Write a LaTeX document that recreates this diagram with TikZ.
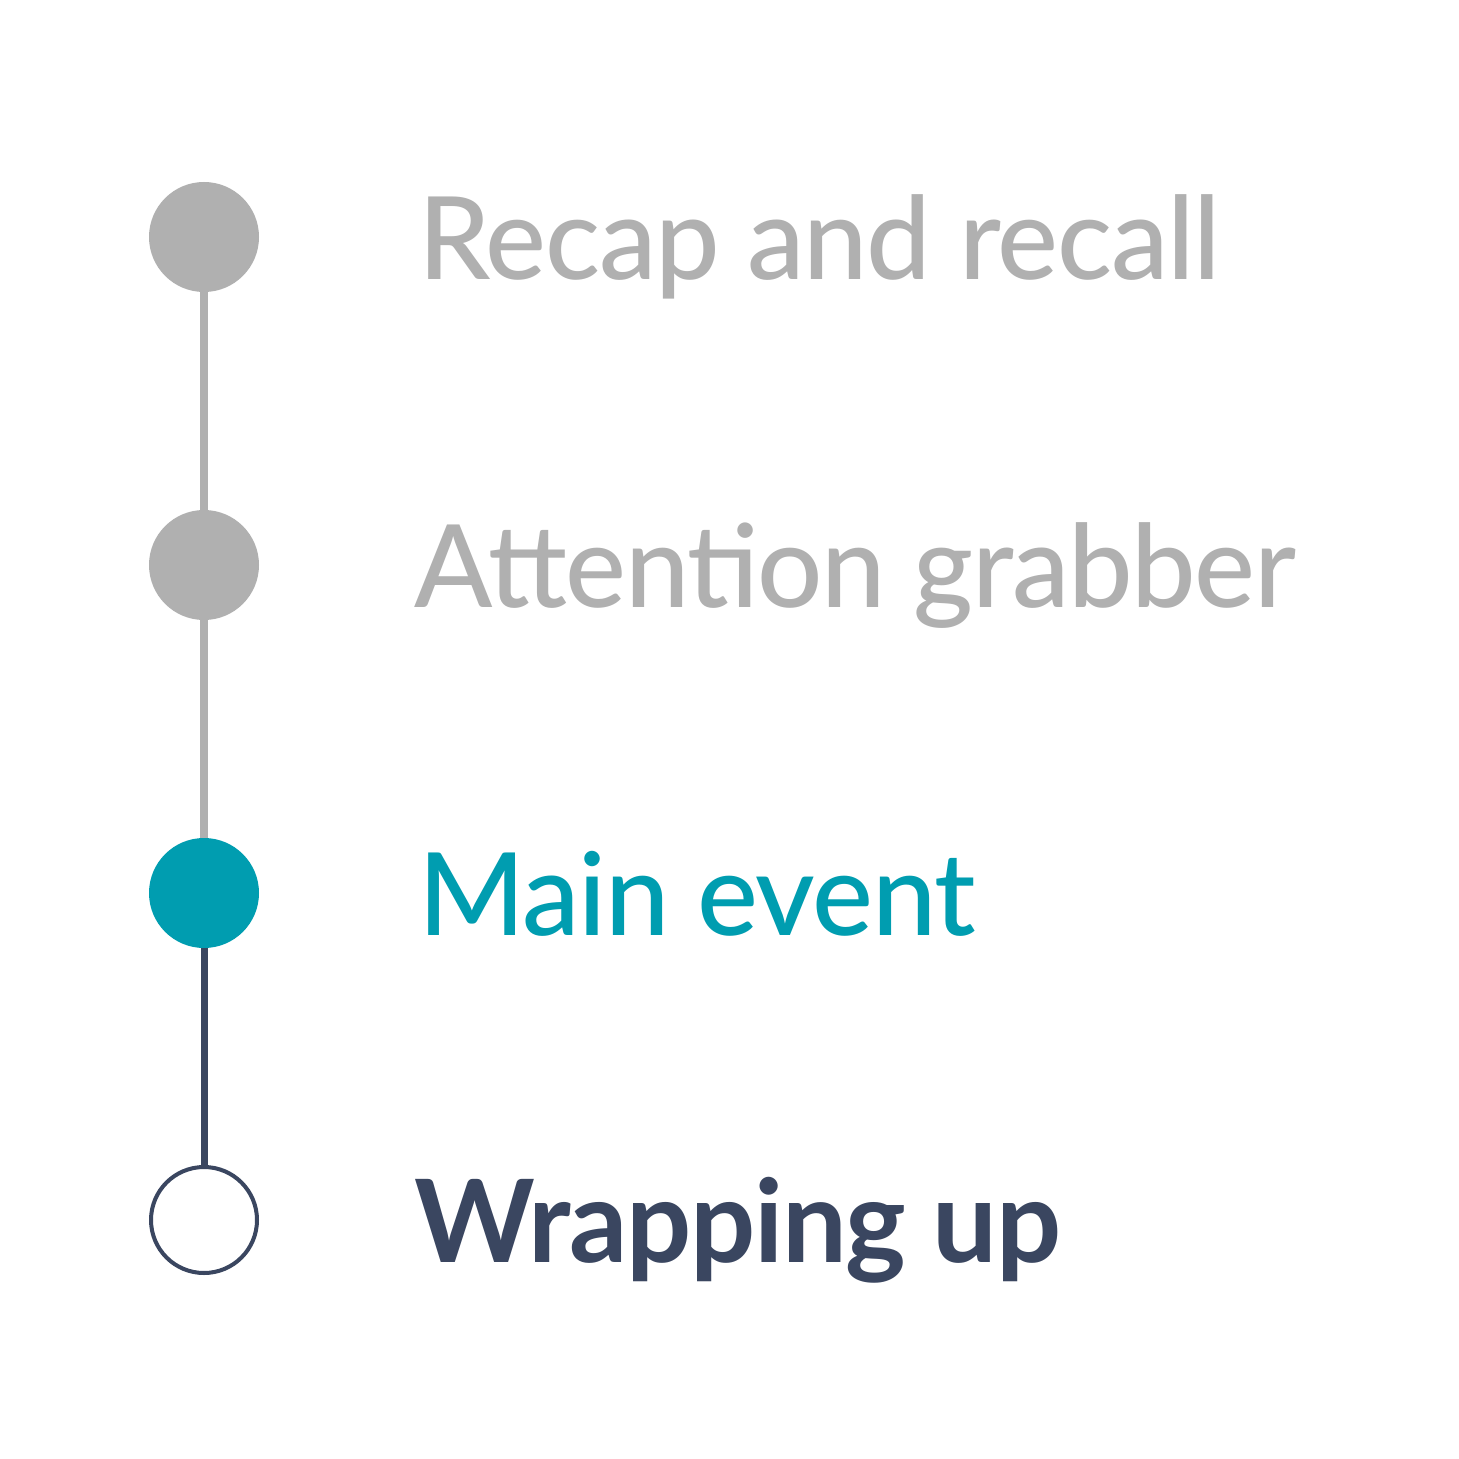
\documentclass[tikz,border=0pt]{standalone}
\usepackage{fontspec}
\setmainfont{Lato}
\newfontfamily\latomed[LetterSpace=-1.2]{Lato Medium}
\newfontfamily\latobold[LetterSpace=-1.2]{Lato Bold}
\definecolor{cgray}{HTML}{B0B0B0}
\definecolor{cteal}{HTML}{009DB0}
\definecolor{cdark}{HTML}{3A4660}
\begin{document}
\begin{tikzpicture}[x=0.5pt,y=-0.5pt,
  dot/.style={circle,minimum size=55pt,inner sep=0pt},
  lbl/.style={anchor=base west,inner sep=0pt,font=\fontsize{57.5pt}{60pt}\selectfont\latomed}]
\useasboundingbox (0,0) rectangle (1459,1459);
\fill[white] (0,0) rectangle (1459,1459);
\node[dot,fill=cgray] (c1) at (204,237) {};
\node[dot,fill=cgray] (c2) at (204,565) {};
\node[dot,fill=cteal] (c3) at (204,893) {};
\node[dot,fill=white,draw=cdark,line width=2pt,minimum size=53pt] (c4) at (204,1220) {};
\draw[cgray,line width=4pt] (c1) -- (c2);
\draw[cgray,line width=4pt] (c2) -- (c3);
\draw[cdark,line width=3.5pt] (c3) -- (c4);
\node[lbl,text=cgray] (t1) at (418,280) {Recap and recall};
\node[lbl,text=cgray] (t2) at (414,607) {Attention grabber};
\node[lbl,text=cteal] (t3) at (418,935) {Main event};
\node[lbl,text=cdark,font=\fontsize{57.5pt}{60pt}\selectfont\latobold] (t4) at (414,1262) {Wrapping up};
\end{tikzpicture}
\end{document}
